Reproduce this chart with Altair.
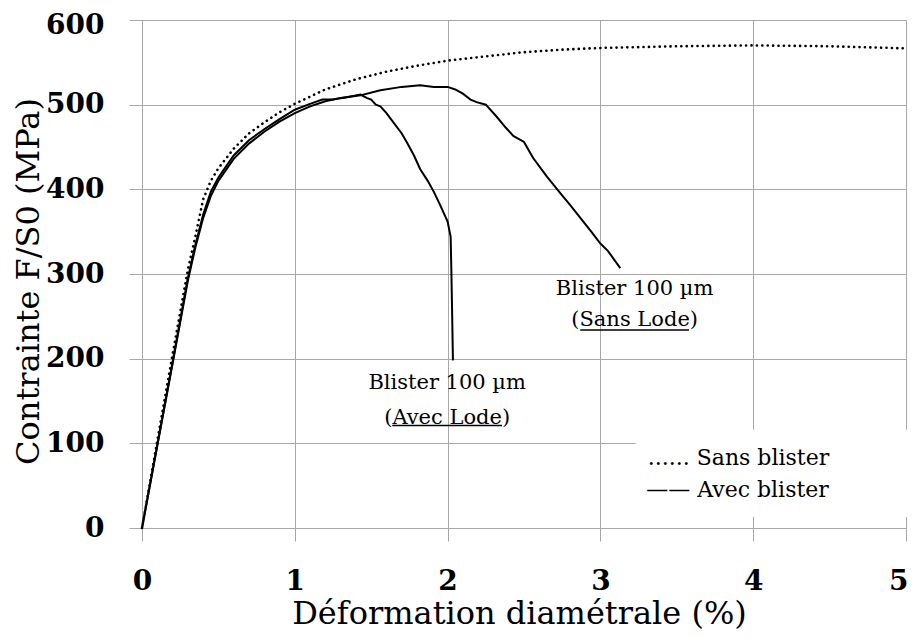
import altair as alt
import pandas as pd

# ---- data ----
sans_x = [0, 0.1, 0.2, 0.3, 0.35, 0.4, 0.45, 0.5, 0.6, 0.7, 0.8, 0.9, 1.0, 1.2, 1.4,
          1.6, 1.8, 2.0, 2.25, 2.5, 2.75, 3.0, 3.5, 4.0, 4.5, 5.0]
sans_y = [0, 103, 205, 305, 345, 388, 410, 425, 448, 466, 479, 491, 501, 518, 530,
          539, 546, 552, 557, 562, 565, 567, 569, 570, 569, 566.5]

avec_lode_x = [0, 0.1, 0.2, 0.3, 0.35, 0.4, 0.45, 0.5, 0.6, 0.7, 0.8, 0.9, 1.0, 1.1,
               1.18, 1.25, 1.35, 1.43, 1.47, 1.5, 1.53, 1.56, 1.6, 1.65, 1.7, 1.735,
               1.78, 1.82, 1.87, 1.91, 1.95, 2.0, 2.02, 2.025, 2.03, 2.035]
avec_lode_y = [0, 98, 196, 295, 335, 370, 397, 414, 440, 458, 471, 483, 494, 501,
               506, 506, 509, 512, 508, 506, 500, 498, 490, 478, 466, 455,
               440, 424, 410, 397, 382, 362, 344, 300, 250, 198]

sans_lode_x = [0, 0.1, 0.2, 0.3, 0.35, 0.4, 0.45, 0.5, 0.6, 0.7, 0.8, 0.9, 1.0, 1.1,
               1.2, 1.3, 1.43, 1.56, 1.7, 1.82, 1.91, 2.0, 2.05, 2.1, 2.15, 2.19,
               2.25, 2.32, 2.38, 2.43, 2.5, 2.56, 2.65, 2.74, 2.8, 2.87, 2.94, 3.0,
               3.05, 3.13]
sans_lode_y = [0, 97, 194, 292, 332, 366, 392, 410, 436, 454, 468, 480, 490, 498,
               504, 508, 511, 517, 521, 523, 521, 521, 518, 513, 506, 503,
               500, 486, 473, 463, 456, 437, 415, 395, 382, 366, 350, 336,
               327, 307]

ann_text = ["Blister 100 \u00b5m", "(Sans Lode)", "Blister 100 \u00b5m", "(Avec Lode)"]
ann_x = [3.224, 3.224, 1.997, 1.997]
ann_y = [282, 246, 171, 130]

ul_x1 = [2.868, 1.638]
ul_x2 = [3.580, 2.356]
ul_y = [234, 121]

leg_text = ["...... Sans blister", "\u2014\u2014 Avec blister"]
leg_x = [3.31, 3.30]
leg_y = [83, 45]

box_x1 = [3.23]
box_x2 = [5.02]
box_y1 = [13]
box_y2 = [116]

x_ticks = [0, 1, 2, 3, 4, 5]
y_ticks = [0, 100, 200, 300, 400, 500, 600]

# ---- tables ----
dotted = pd.DataFrame({"x": sans_x, "y": sans_y, "i": range(len(sans_x))})
solid = pd.concat([
    pd.DataFrame({"x": avec_lode_x, "y": avec_lode_y, "i": range(len(avec_lode_x)),
                  "c": "Avec Lode"}),
    pd.DataFrame({"x": sans_lode_x, "y": sans_lode_y, "i": range(len(sans_lode_x)),
                  "c": "Sans Lode"}),
])
ann = pd.DataFrame({"x": ann_x, "y": ann_y, "t": ann_text})
ul = pd.DataFrame({"x": ul_x1, "x2": ul_x2, "y": ul_y})
leg = pd.DataFrame({"x": leg_x, "y": leg_y, "t": leg_text})
box = pd.DataFrame({"x": box_x1, "x2": box_x2, "y": box_y1, "y2": box_y2})

FONT = "DejaVu Serif"
GRID = "#a8a8a8"

xs = alt.Scale(domain=[0, 5], nice=False, zero=False)
ys = alt.Scale(domain=[0, 600], nice=False)

last_x = "datum.value == 5"
top_y = "datum.value == 600"
x_axis = alt.Axis(values=x_ticks, format="d", title="D\u00e9formation diam\u00e9trale (%)",
                  labelFont=FONT, labelFontSize=28, labelFontWeight="bold",
                  labelColor="black", labelPadding=26, tickSize=13, labelFlush=False,
                  labelAlign={"condition": {"test": last_x, "value": "right"},
                              "value": "center"},
                  labelOffset={"condition": {"test": last_x, "value": 2}, "value": 0},
                  titleFont=FONT, titleFontSize=32, titleFontWeight="normal",
                  titleColor="black", titleX=377, titleY=95,
                  titleBaseline="alphabetic", titleAlign="center")
y_axis = alt.Axis(values=y_ticks, format="d", title="Contrainte F/S0 (MPa)",
                  labelFont=FONT, labelFontSize=28, labelFontWeight="bold",
                  labelColor="black", labelPadding=25, tickSize=13, labelFlush=False,
                  labelOffset={"condition": {"test": top_y, "value": 5}, "value": 0},
                  titleFont=FONT, titleFontSize=32, titleFontWeight="normal",
                  titleColor="black", titleX=-114, titleY=261, titleAngle=270,
                  titleBaseline="middle", titleAlign="center")


def X(field="x"):
    return alt.X(f"{field}:Q", scale=xs, axis=x_axis)


def Y(field="y"):
    return alt.Y(f"{field}:Q", scale=ys, axis=y_axis)


dot_line = alt.Chart(dotted).mark_line(
    color="black", strokeWidth=2.6, strokeCap="round", strokeDash=[0.1, 5.3]
).encode(x=X(), y=Y(), order=alt.Order("i:Q"))

solid_lines = alt.Chart(solid).mark_line(
    color="black", strokeWidth=2
).encode(x=X(), y=Y(), detail="c:N", order=alt.Order("i:Q"))

ann_layer = alt.Chart(ann).mark_text(
    font=FONT, fontSize=21, color="black", align="center", baseline="middle"
).encode(x=X(), y=Y(), text="t:N")

ul_layer = alt.Chart(ul).mark_rule(color="black", strokeWidth=1.5).encode(
    x=X(), x2="x2:Q", y=Y()
)

box_layer = alt.Chart(box).mark_rect(fill="white").encode(
    x=X(), x2="x2:Q", y=Y(), y2="y2:Q"
)

leg_layer = alt.Chart(leg).mark_text(
    font=FONT, fontSize=22, color="black", align="left", baseline="middle"
).encode(x=X(), y=Y(), text="t:N")

chart = alt.layer(
    dot_line, solid_lines, box_layer, ann_layer, ul_layer, leg_layer
).properties(
    width=764, height=508,
    autosize=alt.AutoSizeParams(type="none"),
    padding={"left": 134, "top": 12, "right": 2, "bottom": 103},
    background="white",
).configure_view(stroke=None).configure_axis(
    gridColor=GRID, gridWidth=1, tickColor=GRID, domainColor=GRID, tickWidth=1,
    domainWidth=1
)

chart.save("out.html", embed_options={"renderer": "svg", "actions": False})
